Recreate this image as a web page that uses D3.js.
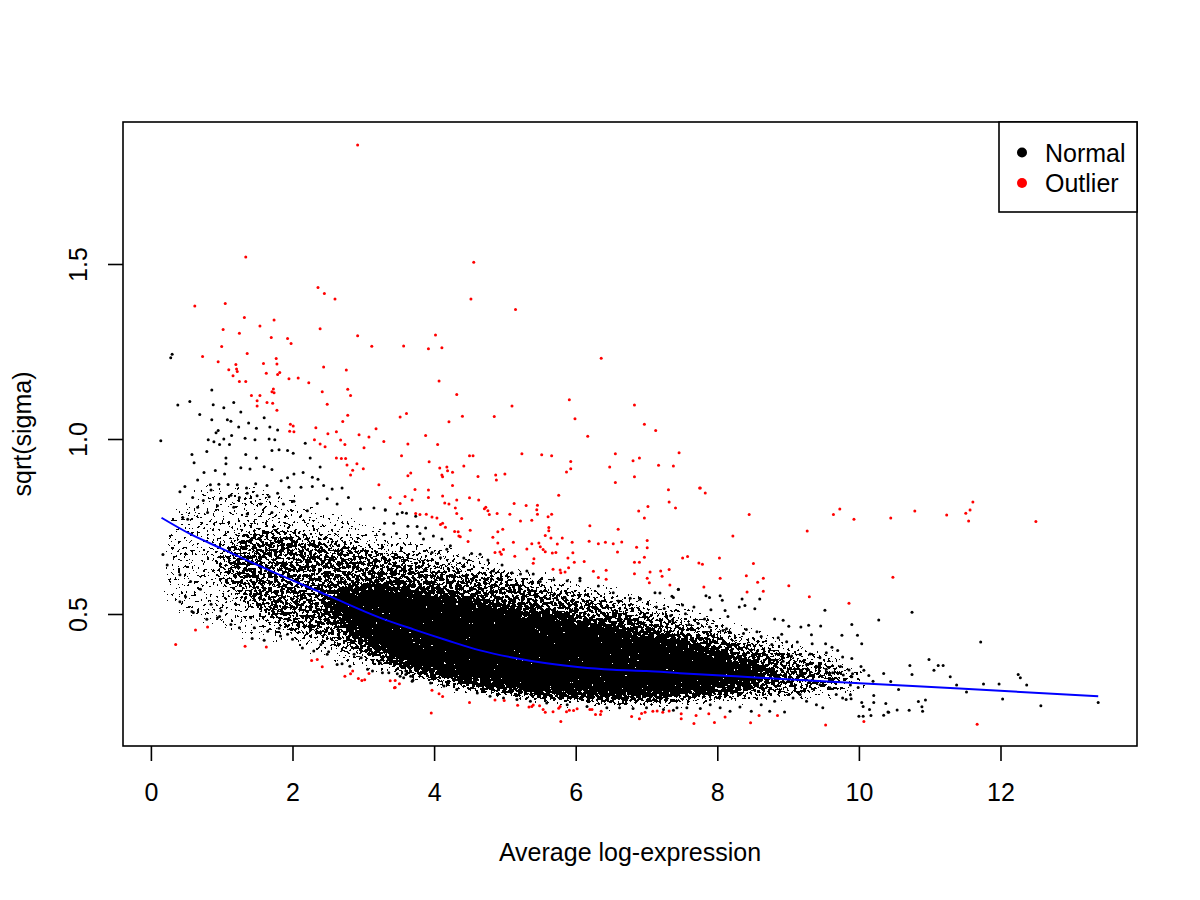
<!DOCTYPE html>
<html>
<head>
<meta charset="utf-8">
<script src="https://cdn.jsdelivr.net/npm/d3@7"></script>
<style>
	body { margin: 0; background: #fff; }
	text { font-family: "Liberation Sans", Arial, Helvetica, sans-serif; }
</style>
</head>
<body>
<svg id="chart" width="1200" height="900"></svg>
<script>
'use strict'

// ticks and labels
const xTicks = [0, 2, 4, 6, 8, 10, 12]
const yTicks = [0.5, 1.0, 1.5]
const yTickLabels = ['0.5', '1.0', '1.5']
const xTitle = 'Average log-expression'
const yTitle = 'sqrt(sigma)'
const legendLabels = ['Normal', 'Outlier']

// fitted trend
const trendX = [0.15, 0.56, 1.0, 1.69, 2.5, 3.24, 3.71, 4.18, 4.65, 5.12, 5.59, 6.06, 6.53, 7.0, 7.47, 8.6, 10.01, 11.42, 13.38]
const trendY = [0.775, 0.728, 0.687, 0.623, 0.553, 0.489, 0.456, 0.425, 0.396, 0.375, 0.359, 0.348, 0.341, 0.337, 0.331, 0.318, 0.302, 0.287, 0.265]

// envelopes of the crowded cloud, read as [x, low, high], from thin halo to solid core
const cloudHalo = [
	[0.15, 0.52, 0.78], [0.5, 0.47, 0.86], [1.0, 0.44, 0.89], [1.5, 0.42, 0.88], [2.0, 0.39, 0.85],
	[2.5, 0.36, 0.81], [3.0, 0.33, 0.78], [3.5, 0.30, 0.75], [4.0, 0.28, 0.72], [4.5, 0.26, 0.69],
	[5.0, 0.245, 0.66], [5.5, 0.235, 0.63], [6.0, 0.23, 0.61], [6.5, 0.225, 0.59], [7.0, 0.225, 0.57],
	[7.5, 0.225, 0.55], [8.0, 0.23, 0.51], [8.5, 0.235, 0.47], [9.0, 0.24, 0.44], [9.5, 0.25, 0.41],
	[10.0, 0.26, 0.37], [10.3, 0.28, 0.34]
]
const cloudBody = [
	[1.0, 0.60, 0.70], [1.5, 0.50, 0.75], [2.0, 0.45, 0.74], [2.5, 0.42, 0.71],
	[3.0, 0.38, 0.69], [3.5, 0.34, 0.67], [4.0, 0.31, 0.65], [4.5, 0.29, 0.63], [5.0, 0.27, 0.61],
	[5.5, 0.26, 0.58], [6.0, 0.25, 0.56], [6.5, 0.245, 0.54], [7.0, 0.245, 0.51], [7.5, 0.25, 0.48],
	[8.0, 0.255, 0.45], [8.5, 0.26, 0.42], [9.0, 0.27, 0.39], [9.5, 0.28, 0.36], [9.8, 0.30, 0.34]
]
const cloudCore = [
	[2.5, 0.52, 0.55], [3.0, 0.42, 0.58], [3.5, 0.36, 0.58], [4.0, 0.32, 0.56], [4.5, 0.30, 0.54],
	[5.0, 0.28, 0.52], [5.5, 0.27, 0.50], [6.0, 0.265, 0.48], [6.5, 0.26, 0.46], [7.0, 0.26, 0.44],
	[7.5, 0.27, 0.42], [8.0, 0.28, 0.39], [8.5, 0.30, 0.35], [8.8, 0.32, 0.33]
]
const cloudDensity = [0.37, 0.25, 0.48]

// scattered genes outside the crowded cloud
const normalPoints = [
	[0.28, 1.232], [0.30, 1.242], [0.14, 0.995],
	[0.86, 1.14], [0.38, 1.097], [0.55, 1.107], [0.69, 1.07], [0.88, 1.098], [1.03, 1.089], [1.17, 1.104], [1.27, 1.077],
	[0.86, 1.055], [1.08, 1.055], [1.13, 1.051], [1.24, 1.034], [1.38, 1.046], [1.60, 1.061], [1.68, 1.034], [1.79, 1.026],
	[1.49, 1.031], [0.95, 1.024], [0.92, 1.018], [1.14, 1.01], [0.81, 0.998], [0.89, 0.992], [0.97, 0.984],
	[1.03, 1.00], [1.11, 0.984], [1.33, 1.002], [1.47, 0.998], [1.67, 1.00], [1.75, 0.998], [2.18, 0.988], [0.58, 0.956],
	[0.79, 0.964], [1.06, 0.946], [1.34, 0.956], [1.49, 0.946], [1.71, 0.967], [1.81, 0.969], [1.93, 0.967], [2.01, 0.959],
	[2.25, 0.946], [0.61, 0.932], [1.06, 0.929], [1.27, 0.918], [1.40, 0.914], [1.60, 0.921], [1.71, 0.913], [0.75, 0.904],
	[0.91, 0.91], [1.04, 0.90], [2.39, 0.92], [0.66, 0.883], [0.84, 0.869], [0.96, 0.871], [1.09, 0.87], [1.22, 0.869],
	[1.35, 0.86], [1.48, 0.872], [1.64, 0.867], [1.84, 0.881], [1.93, 0.889], [2.02, 0.90], [2.15, 0.904], [2.28, 0.891],
	[2.36, 0.885], [0.48, 0.864], [0.41, 0.849], [0.59, 0.833], [0.74, 0.824], [0.85, 0.854], [0.99, 0.831], [1.13, 0.839],
	[1.25, 0.833], [1.36, 0.845], [1.50, 0.838], [1.67, 0.835], [1.79, 0.845], [1.95, 0.862], [2.12, 0.862], [2.28, 0.864],
	[2.44, 0.867], [2.56, 0.857], [2.70, 0.86], [2.79, 0.833], [2.49, 0.829], [2.35, 0.816], [2.02, 0.822], [1.87, 0.814],
	[1.55, 0.814], [1.17, 0.805], [0.94, 0.809], [0.66, 0.805], [2.96, 0.80], [3.15, 0.803], [3.31, 0.797], [3.48, 0.786],
	[2.63, 0.814], [2.21, 0.795], [1.71, 0.79], [1.36, 0.786], [0.80, 0.79], [0.45, 0.776], [0.52, 0.771],
	[0.17, 0.67], [0.23, 0.64], [0.41, 0.612], [0.41, 0.535], [0.58, 0.507], [0.49, 0.549], [0.56, 0.593], [0.70, 0.571],
	[0.79, 0.485], [0.94, 0.489], [0.85, 0.528], [0.99, 0.509], [1.13, 0.47], [1.25, 0.461], [1.43, 0.43], [1.60, 0.425],
	[1.46, 0.461], [1.65, 0.451], [1.83, 0.437], [2.00, 0.428], [2.14, 0.403], [2.30, 0.394], [2.49, 0.385], [2.63, 0.356],
	[2.81, 0.351], [1.41, 0.489], [0.60, 0.504], [0.97, 0.493], [1.81, 0.459], [1.93, 0.442], [2.40, 0.413], [2.51, 0.392],
	[2.70, 0.358], [2.87, 0.385], [2.97, 0.375], [3.06, 0.342], [3.13, 0.337], [3.24, 0.361], [3.36, 0.332], [3.48, 0.329],
	[3.60, 0.337], [3.70, 0.311], [3.57, 0.318], [3.67, 0.322],
	[3.31, 0.797], [3.55, 0.79], [3.61, 0.788], [3.74, 0.779], [3.30, 0.759], [3.43, 0.759], [3.63, 0.751], [3.76, 0.75],
	[3.88, 0.746], [3.47, 0.73], [3.29, 0.728], [3.80, 0.73], [3.99, 0.723], [4.11, 0.714], [3.85, 0.714], [4.23, 0.695],
	[4.18, 0.685], [3.97, 0.676], [4.53, 0.673], [4.65, 0.671], [4.76, 0.654], [4.42, 0.66], [4.09, 0.661], [4.96, 0.64],
	[5.10, 0.618], [5.22, 0.614], [5.31, 0.623], [5.40, 0.614], [5.50, 0.593], [5.69, 0.598], [5.88, 0.595], [6.06, 0.595],
	[6.32, 0.58], [6.53, 0.561], [6.60, 0.537], [6.77, 0.545], [6.91, 0.542], [7.12, 0.561], [7.14, 0.52], [7.38, 0.547],
	[7.45, 0.571], [5.85, 0.547], [6.06, 0.602], [4.84, 0.623],
	[3.27, 0.332], [3.52, 0.322], [3.60, 0.327], [3.69, 0.308], [3.95, 0.303], [4.14, 0.294], [4.32, 0.284], [4.61, 0.274],
	[4.79, 0.265], [4.98, 0.26], [5.17, 0.256], [5.36, 0.251], [5.59, 0.246], [5.88, 0.241], [6.16, 0.236], [6.44, 0.232],
	[6.62, 0.232], [6.81, 0.23], [7.00, 0.232], [7.24, 0.227], [7.43, 0.232],
	[7.45, 0.57], [7.36, 0.551], [7.19, 0.56], [7.25, 0.516], [7.34, 0.495], [7.51, 0.526], [7.67, 0.52], [7.84, 0.552],
	[7.89, 0.547], [8.04, 0.552], [8.07, 0.539], [7.91, 0.512], [8.11, 0.51], [8.15, 0.493], [8.35, 0.543], [8.31, 0.52],
	[8.39, 0.524], [8.53, 0.515], [8.60, 0.543], [8.81, 0.486], [8.93, 0.482], [9.01, 0.465], [9.18, 0.463], [9.29, 0.468],
	[7.82, 0.486], [7.73, 0.473], [7.60, 0.47], [7.55, 0.501], [7.37, 0.48], [7.89, 0.463], [8.08, 0.453], [8.13, 0.458],
	[8.18, 0.448], [8.37, 0.444], [8.41, 0.456], [8.56, 0.449], [8.62, 0.436], [8.77, 0.413], [8.86, 0.432], [8.91, 0.442],
	[8.98, 0.421], [9.13, 0.42], [9.34, 0.415], [9.53, 0.415], [9.62, 0.405], [9.70, 0.396], [9.54, 0.389], [9.45, 0.375],
	[9.31, 0.386], [9.17, 0.384], [9.05, 0.38], [8.93, 0.365], [9.26, 0.356], [9.40, 0.351], [9.54, 0.342], [9.63, 0.332],
	[9.17, 0.327], [9.31, 0.308], [9.45, 0.298], [9.59, 0.289], [9.68, 0.27], [9.49, 0.232], [9.40, 0.241], [9.26, 0.251],
	[9.17, 0.27], [9.07, 0.26], [8.95, 0.22], [8.81, 0.251], [8.74, 0.222], [8.62, 0.241], [8.48, 0.222], [8.32, 0.234],
	[8.18, 0.222], [8.04, 0.232], [7.90, 0.241], [7.76, 0.23], [7.57, 0.232], [7.38, 0.225],
	[10.99, 0.37], [11.12, 0.353], [11.19, 0.353], [11.06, 0.339], [11.29, 0.321], [11.38, 0.297], [10.72, 0.353], [10.75, 0.327],
	[10.94, 0.254], [10.89, 0.235], [10.84, 0.25], [10.71, 0.225], [10.54, 0.226], [10.42, 0.219], [10.35, 0.211], [10.21, 0.247],
	[10.21, 0.267], [10.38, 0.244], [10.06, 0.236], [10.04, 0.247], [10.15, 0.227], [10.06, 0.208], [10.00, 0.208], [10.56, 0.284],
	[10.45, 0.307], [10.35, 0.33], [10.03, 0.35], [10.07, 0.339], [10.14, 0.324], [10.20, 0.308], [10.28, 0.483], [10.75, 0.505],
	[9.90, 0.47], [9.98, 0.439], [10.04, 0.415], [9.76, 0.439], [9.52, 0.511], [9.77, 0.377], [9.90, 0.373], [9.86, 0.34],
	[9.91, 0.329], [9.78, 0.326], [9.74, 0.35], [9.88, 0.269], [9.89, 0.258], [9.82, 0.256], [9.77, 0.26], [9.99, 0.29],
	[9.88, 0.297], [9.46, 0.466], [9.33, 0.441], [9.90, 0.321], [10.17, 0.21], [10.41, 0.22], [10.90, 0.222],
	[11.72, 0.42], [11.52, 0.277], [11.76, 0.30], [11.98, 0.30], [12.03, 0.257], [12.25, 0.327], [12.28, 0.318], [12.37, 0.297],
	[12.57, 0.238], [13.38, 0.247]
]

const outlierPoints = [
	[2.92, 1.84], [1.34, 1.52], [4.56, 1.505], [2.36, 1.433], [2.45, 1.416], [2.60, 1.40], [4.52, 1.40], [0.62, 1.38],
	[1.05, 1.387], [5.15, 1.37], [1.32, 1.347], [1.74, 1.34], [1.02, 1.313], [1.54, 1.323], [1.25, 1.302], [2.39, 1.315],
	[1.70, 1.29], [1.93, 1.287], [1.98, 1.273], [2.92, 1.295], [3.12, 1.265], [1.00, 1.264], [4.02, 1.297], [3.57, 1.266],
	[3.92, 1.258], [4.11, 1.261], [6.36, 1.231], [0.73, 1.236], [1.36, 1.244], [0.95, 1.221], [1.77, 1.23], [1.59, 1.216],
	[1.78, 1.214], [1.20, 1.213], [1.10, 1.198], [1.21, 1.20], [1.22, 1.193], [1.16, 1.181], [1.63, 1.188], [1.82, 1.19],
	[1.79, 1.184], [1.95, 1.172], [2.08, 1.174], [2.44, 1.206], [2.76, 1.197], [1.25, 1.164], [1.34, 1.164], [2.23, 1.161],
	[2.78, 1.142], [2.82, 1.124], [2.42, 1.135], [1.42, 1.124], [1.54, 1.124], [1.73, 1.143], [1.71, 1.135], [1.74, 1.132],
	[1.64, 1.104], [1.72, 1.102], [1.50, 1.109], [1.50, 1.094], [1.78, 1.082], [2.49, 1.099], [2.78, 1.068], [2.71, 1.05],
	[1.97, 1.042], [2.01, 1.037], [2.02, 1.021], [1.96, 1.022], [2.33, 1.032], [2.50, 1.015], [2.62, 1.021], [2.94, 1.012],
	[3.18, 1.029], [3.08, 1.006], [3.52, 1.063], [2.31, 0.998], [2.68, 0.997], [2.39, 0.986], [2.46, 0.978], [2.74, 0.984],
	[3.01, 0.975], [3.29, 0.993], [2.62, 0.946], [2.69, 0.944], [2.75, 0.944], [2.91, 0.929], [2.77, 0.926], [2.85, 0.911],
	[2.82, 0.897], [3.00, 0.915], [3.22, 0.869],
	[4.07, 1.166], [4.32, 1.127], [3.61, 1.073], [4.40, 1.065], [4.85, 1.064], [5.10, 1.094], [5.91, 1.112], [6.83, 1.097],
	[4.21, 1.049], [5.99, 1.058], [6.97, 1.042], [7.13, 1.024], [6.17, 1.008], [3.88, 1.01], [3.63, 0.986], [4.05, 0.984],
	[3.54, 0.952], [3.93, 0.935], [4.50, 0.952], [4.55, 0.952], [5.24, 0.958], [5.52, 0.955], [5.66, 0.952], [5.93, 0.936],
	[5.87, 0.906], [5.93, 0.915], [6.56, 0.958], [6.81, 0.938], [6.90, 0.946], [7.46, 0.961], [7.17, 0.925], [7.38, 0.923],
	[6.48, 0.92], [6.56, 0.876], [6.83, 0.892], [3.63, 0.895], [3.67, 0.903], [4.08, 0.917], [4.18, 0.92], [4.19, 0.909],
	[4.11, 0.897], [4.12, 0.892], [4.26, 0.905], [4.42, 0.923], [4.62, 0.893], [4.26, 0.867], [4.87, 0.897], [4.88, 0.883],
	[5.00, 0.90], [3.73, 0.856], [3.92, 0.854], [7.31, 0.855], [7.76, 0.86],
	[3.38, 0.833], [3.59, 0.836], [3.92, 0.833], [4.12, 0.837], [3.69, 0.826], [4.50, 0.832], [4.63, 0.826], [4.32, 0.826],
	[5.76, 0.839], [4.15, 0.817], [4.21, 0.814], [3.52, 0.816], [4.30, 0.803], [4.73, 0.805], [5.13, 0.816], [5.30, 0.81],
	[5.46, 0.811], [7.32, 0.82], [7.41, 0.803], [7.02, 0.807], [6.89, 0.794], [6.97, 0.774], [4.71, 0.801], [4.76, 0.795],
	[3.74, 0.787], [3.89, 0.785], [3.80, 0.784], [3.97, 0.777], [4.32, 0.787], [4.78, 0.784], [4.89, 0.787], [5.07, 0.785],
	[5.61, 0.778], [5.66, 0.785], [5.45, 0.798], [5.46, 0.785], [4.04, 0.774], [4.39, 0.773], [5.22, 0.766], [5.38, 0.768],
	[4.12, 0.759], [4.09, 0.756], [4.16, 0.748], [6.20, 0.752], [6.60, 0.742], [4.29, 0.736], [4.51, 0.739], [4.97, 0.742],
	[4.90, 0.735], [5.62, 0.747], [5.62, 0.738], [4.34, 0.735], [4.35, 0.723], [4.37, 0.721], [5.57, 0.724], [5.65, 0.717],
	[5.81, 0.717], [4.83, 0.719], [4.90, 0.703], [5.12, 0.705], [4.48, 0.707], [5.38, 0.701], [5.48, 0.703], [5.74, 0.70],
	[5.95, 0.705], [6.19, 0.708], [6.32, 0.701], [6.42, 0.705], [6.53, 0.701], [6.65, 0.706], [7.01, 0.71], [5.31, 0.686],
	[5.54, 0.684], [5.50, 0.692], [5.57, 0.678], [6.86, 0.691], [7.01, 0.689], [6.59, 0.677], [5.67, 0.674], [5.72, 0.676],
	[4.86, 0.676], [4.93, 0.677], [4.95, 0.671], [4.98, 0.684], [5.14, 0.665], [5.96, 0.675], [5.89, 0.66], [5.41, 0.658],
	[5.40, 0.645], [5.98, 0.648], [6.12, 0.65], [6.83, 0.648], [6.90, 0.648], [6.97, 0.662], [5.68, 0.628], [5.78, 0.626],
	[5.79, 0.618], [5.90, 0.632], [5.85, 0.62], [6.25, 0.622], [6.43, 0.625], [7.05, 0.62], [7.32, 0.627], [6.83, 0.615],
	[6.32, 0.604], [6.43, 0.599], [7.01, 0.602], [7.22, 0.608], [7.04, 0.589], [7.20, 0.623], [7.33, 0.583],
	[3.38, 0.309], [3.45, 0.29], [3.51, 0.301], [3.97, 0.282], [4.07, 0.272], [4.12, 0.264], [3.96, 0.217], [4.50, 0.247],
	[4.86, 0.254], [4.99, 0.253], [5.18, 0.239], [5.34, 0.234], [5.38, 0.236], [5.40, 0.24], [5.49, 0.238], [5.54, 0.227],
	[5.57, 0.219], [5.68, 0.221], [5.76, 0.231], [5.78, 0.236], [5.79, 0.193], [5.87, 0.221], [5.91, 0.225], [5.97, 0.224],
	[6.02, 0.229], [6.20, 0.227], [6.23, 0.227], [6.28, 0.213], [6.36, 0.222], [6.35, 0.213], [6.79, 0.207], [6.90, 0.201],
	[6.93, 0.216], [6.98, 0.219], [7.09, 0.222], [7.15, 0.223], [7.23, 0.219], [7.32, 0.223],
	[7.75, 0.86], [7.83, 0.846], [8.45, 0.784], [8.22, 0.723], [9.64, 0.784], [9.73, 0.80], [9.93, 0.771], [10.45, 0.774],
	[10.79, 0.794], [11.24, 0.783], [9.27, 0.737], [7.51, 0.66], [7.58, 0.664], [7.74, 0.646], [7.79, 0.642], [8.03, 0.66],
	[8.51, 0.644], [8.04, 0.602], [8.41, 0.609], [8.65, 0.602], [8.57, 0.591], [7.81, 0.577], [8.42, 0.563], [8.65, 0.565],
	[9.01, 0.581], [9.30, 0.549], [10.48, 0.605], [9.86, 0.531],
	[7.49, 0.215], [7.49, 0.201], [7.70, 0.21], [7.67, 0.187], [7.88, 0.215], [7.96, 0.19], [8.11, 0.206],
	[8.47, 0.189], [8.59, 0.21], [8.85, 0.21], [9.53, 0.183], [10.07, 0.193],
	[11.61, 0.82], [11.57, 0.797], [11.51, 0.788], [11.55, 0.766], [12.50, 0.764], [11.67, 0.185],
	[0.35, 0.413], [0.63, 0.454], [0.80, 0.463], [1.33, 0.408], [1.63, 0.406], [2.27, 0.367], [2.35, 0.37], [2.42, 0.349],
	[2.74, 0.322], [2.82, 0.329], [2.85, 0.337], [2.93, 0.316], [2.98, 0.31], [3.02, 0.312], [3.08, 0.33], [3.45, 0.31],
	[3.44, 0.289]
]

const margin = { left: 123, right: 1137, top: 122, bottom: 746 }
const fontSize = 25
const pointRadius = 1.5

const svg = d3.select('#chart')

const x = d3.scaleLinear()
	.domain([(margin.left - 150.9) / 70.8, (margin.right - 150.9) / 70.8])
	.range([margin.left, margin.right])
const y = d3.scaleLinear()
	.domain([0.5 - (margin.bottom - 614) / 350, 0.5 + (614 - margin.top) / 350])
	.range([margin.bottom, margin.top])

const defs = svg.append('defs')

defs.append('clipPath').attr('id', 'plotClip')
	.append('rect')
	.attr('x', margin.left).attr('y', margin.top)
	.attr('width', margin.right - margin.left).attr('height', margin.bottom - margin.top)

// the crowded cloud is drawn as a density map turned into speckle
const speckle = defs.append('filter')
	.attr('id', 'speckle')
	.attr('filterUnits', 'userSpaceOnUse')
	.attr('x', 0).attr('y', 0).attr('width', 1200).attr('height', 900)
	.attr('color-interpolation-filters', 'sRGB')
speckle.append('feGaussianBlur')
	.attr('in', 'SourceAlpha').attr('stdDeviation', 7).attr('result', 'density')
speckle.append('feTurbulence')
	.attr('type', 'fractalNoise').attr('baseFrequency', 0.32).attr('numOctaves', 2).attr('seed', 7)
	.attr('result', 'noise')
speckle.append('feColorMatrix')
	.attr('in', 'noise').attr('type', 'matrix')
	.attr('values', '0 0 0 0 0  0 0 0 0 0  0 0 0 0 0  1 0 0 0 0')
	.attr('result', 'noiseA')
speckle.append('feComposite')
	.attr('in', 'density').attr('in2', 'noiseA').attr('operator', 'arithmetic')
	.attr('k1', 0).attr('k2', 1).attr('k3', 0.9).attr('k4', -0.45)
	.attr('result', 'mix')
speckle.append('feComponentTransfer')
	.attr('in', 'mix').attr('result', 'dots')
	.append('feFuncA').attr('type', 'discrete').attr('tableValues', '0 1')
speckle.append('feFlood').attr('flood-color', '#000').attr('result', 'ink')
speckle.append('feComposite').attr('in', 'ink').attr('in2', 'dots').attr('operator', 'in')

const plot = svg.append('g').attr('clip-path', 'url(#plotClip)')

const band = d3.area()
	.x((d) => x(d[0]))
	.y0((d) => y(d[1]))
	.y1((d) => y(d[2]))
	.curve(d3.curveBasis)

const cloud = plot.append('g').attr('filter', 'url(#speckle)')
;[cloudHalo, cloudBody, cloudCore].forEach((env, i) => {
	cloud.append('path')
		.attr('d', band(env))
		.attr('fill', '#000')
		.attr('fill-opacity', cloudDensity[i])
})

plot.append('g')
	.selectAll('circle')
	.data(normalPoints)
	.enter()
	.append('circle')
	.attr('cx', (d) => x(d[0]))
	.attr('cy', (d) => y(d[1]))
	.attr('r', pointRadius)
	.attr('fill', '#000')

plot.append('g')
	.selectAll('circle')
	.data(outlierPoints)
	.enter()
	.append('circle')
	.attr('cx', (d) => x(d[0]))
	.attr('cy', (d) => y(d[1]))
	.attr('r', pointRadius)
	.attr('fill', '#ff0000')

const trend = d3.line()
	.x((d) => x(d[0]))
	.y((d) => y(d[1]))
	.curve(d3.curveMonotoneX)

plot.append('path')
	.attr('d', trend(d3.zip(trendX, trendY)))
	.attr('fill', 'none')
	.attr('stroke', '#0000ff')
	.attr('stroke-width', 2)

// axes
const xAxis = svg.append('g')
	.attr('transform', `translate(0, ${margin.bottom})`)
	.call(d3.axisBottom(x).tickValues(xTicks).tickSize(15).tickPadding(22).tickFormat(d3.format('d')))
xAxis.select('.domain').remove()

const yAxis = svg.append('g')
	.attr('transform', `translate(${margin.left}, 0)`)
	.call(d3.axisLeft(y).tickValues(yTicks).tickSize(15).tickFormat((d, i) => yTickLabels[i]))
yAxis.select('.domain').remove()
yAxis.selectAll('.tick text')
	.attr('x', null)
	.attr('dy', null)
	.attr('text-anchor', 'middle')
	.attr('transform', 'translate(-36, 0) rotate(-90)')

;[xAxis, yAxis].forEach((a) => {
	a.selectAll('.tick line').attr('stroke', '#000').attr('stroke-width', 1.6)
	a.selectAll('.tick text').attr('font-size', fontSize).attr('font-family', '"Liberation Sans", Arial, sans-serif').attr('fill', '#000')
})

svg.append('rect')
	.attr('x', margin.left).attr('y', margin.top)
	.attr('width', margin.right - margin.left).attr('height', margin.bottom - margin.top)
	.attr('fill', 'none')
	.attr('stroke', '#000')
	.attr('stroke-width', 1.6)

svg.append('text')
	.attr('x', (margin.left + margin.right) / 2)
	.attr('y', 861)
	.attr('text-anchor', 'middle')
	.attr('font-size', fontSize)
	.text(xTitle)

svg.append('text')
	.attr('transform', `translate(31, ${(margin.top + margin.bottom) / 2}) rotate(-90)`)
	.attr('text-anchor', 'middle')
	.attr('font-size', fontSize)
	.text(yTitle)

// legend
const legend = svg.append('g')
legend.append('rect')
	.attr('x', 999).attr('y', margin.top)
	.attr('width', margin.right - 999).attr('height', 90)
	.attr('fill', '#fff')
	.attr('stroke', '#000')
	.attr('stroke-width', 1.6)
const legendColors = ['#000', '#ff0000']
legendLabels.forEach((lab, i) => {
	legend.append('circle')
		.attr('cx', 1022).attr('cy', 152.5 + i * 30.5)
		.attr('r', 5)
		.attr('fill', legendColors[i])
	legend.append('text')
		.attr('x', 1045).attr('y', 161.5 + i * 30)
		.attr('font-size', fontSize)
		.text(lab)
})
</script>
</body>
</html>
